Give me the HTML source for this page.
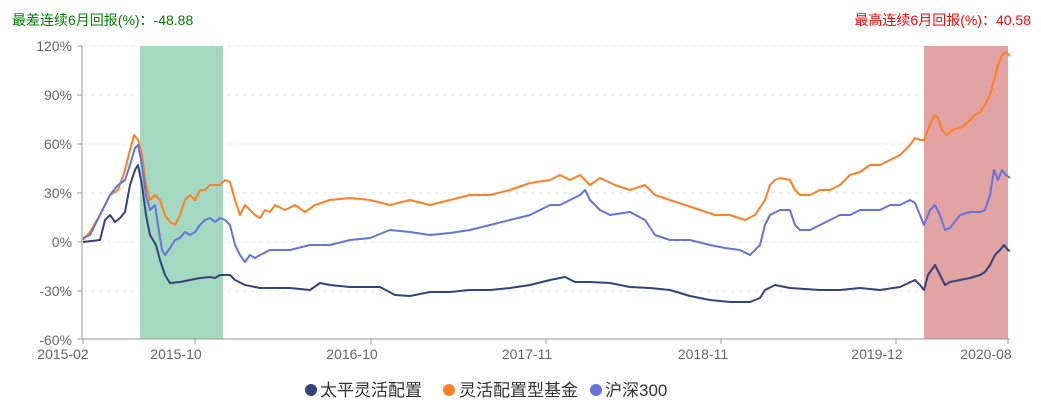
<!DOCTYPE html>
<html><head><meta charset="utf-8"><style>
body{margin:0;background:#fff;width:1041px;height:406px;overflow:hidden;font-family:"Liberation Sans","Noto Sans CJK SC",sans-serif}
</style></head><body>
<svg width="1041" height="406" xmlns="http://www.w3.org/2000/svg" font-family="Liberation Sans, Noto Sans CJK SC, sans-serif">
<text x="12" y="25" font-size="14" fill="#008000">最差连续6月回报(%)：-48.88</text>
<text x="1031" y="25" font-size="14" fill="#ff0000" text-anchor="end">最高连续6月回报(%)：40.58</text>
<g stroke="#e6e6e6" stroke-dasharray="4,4">
<line x1="83" x2="1010" y1="46" y2="46"/><line x1="83" x2="1010" y1="95" y2="95"/><line x1="83" x2="1010" y1="144" y2="144"/><line x1="83" x2="1010" y1="193" y2="193"/><line x1="83" x2="1010" y1="242" y2="242"/><line x1="83" x2="1010" y1="291" y2="291"/>
</g>
<rect x="140" y="46" width="83" height="293" fill="#a5d8c1"/>
<rect x="924" y="46" width="84" height="293" fill="#e2a3a3"/>
<g font-size="14" fill="#666" text-anchor="end">
<text x="72" y="51">120%</text><text x="72" y="100">90%</text><text x="72" y="149">60%</text><text x="72" y="198">30%</text><text x="72" y="247">0%</text><text x="72" y="296">-30%</text><text x="72" y="345">-60%</text>
</g>
<g stroke="#999"><line x1="82" y1="46" x2="82" y2="339"/><line x1="82" y1="339" x2="1010" y2="339"/>
<line x1="77" x2="82" y1="46" y2="46"/><line x1="77" x2="82" y1="95" y2="95"/><line x1="77" x2="82" y1="144" y2="144"/><line x1="77" x2="82" y1="193" y2="193"/><line x1="77" x2="82" y1="242" y2="242"/><line x1="77" x2="82" y1="291" y2="291"/><line x1="77" x2="82" y1="339" y2="339"/>
<line x1="83" x2="83" y1="339" y2="344"/><line x1="195" x2="195" y1="339" y2="344"/><line x1="371" x2="371" y1="339" y2="344"/><line x1="546" x2="546" y1="339" y2="344"/><line x1="721" x2="721" y1="339" y2="344"/><line x1="896" x2="896" y1="339" y2="344"/><line x1="1008" x2="1008" y1="339" y2="344"/>
</g>
<g font-size="14" fill="#666" text-anchor="middle">
<text x="63" y="359">2015-02</text><text x="176" y="359">2015-10</text><text x="352" y="359">2016-10</text><text x="527" y="359">2017-11</text><text x="703" y="359">2018-11</text><text x="877" y="359">2019-12</text><text x="986" y="359">2020-08</text>
</g>
<g fill="none" stroke-width="2" stroke-linejoin="round">
<polyline stroke="#ff7f24" points="83,240 90,232 100,215 110,195 118,190 125,170 130,150 134,135 138,140 142,155 146,185 150,200 155,195 160,200 165,215 170,222 175,225 180,215 185,200 190,195 195,200 200,190 205,190 210,185 215,185 220,185 225,180 230,182 235,200 240,215 245,205 250,210 255,215 260,218 265,210 270,212 275,205 285,210 295,205 305,212 315,205 330,200 350,198 370,200 390,205 410,200 430,205 450,200 470,195 490,195 510,190 530,183 550,180 560,175 570,180 580,175 590,185 600,178 615,185 630,190 645,185 655,195 670,200 685,205 700,210 715,215 730,215 745,220 755,215 765,200 770,185 775,180 780,178 790,180 795,190 800,195 810,195 820,190 830,190 840,185 850,175 860,172 870,165 880,165 890,160 900,155 905,150 910,145 915,138 920,140 924,140 928,130 932,120 935,115 938,118 942,130 947,135 952,130 960,128 965,125 970,120 975,115 980,112 985,105 990,95 994,80 998,65 1002,55 1006,52 1010,56"/>
<polyline stroke="#6673d9" points="83,238 90,235 100,215 110,195 118,185 125,180 130,165 135,148 138,145 142,165 146,195 150,210 155,205 158,225 162,250 165,255 170,248 175,240 180,238 185,232 190,235 195,232 200,225 205,220 210,218 215,222 220,218 225,220 230,225 235,245 240,255 245,262 250,255 255,258 260,255 270,250 290,250 310,245 330,245 350,240 370,238 390,230 410,232 430,235 450,233 470,230 490,225 510,220 530,215 540,210 550,205 560,205 570,200 580,195 585,190 590,200 600,210 610,215 630,212 645,220 655,235 670,240 690,240 710,245 725,248 740,250 750,255 760,245 765,225 770,215 780,210 790,210 795,225 800,230 810,230 820,225 830,220 840,215 850,215 860,210 870,210 880,210 890,205 900,205 910,200 915,203 920,215 924,225 930,210 935,205 940,215 945,230 950,228 960,215 970,212 980,212 985,210 990,195 994,170 998,180 1002,170 1006,175 1010,178"/>
<polyline stroke="#36427a" points="83,242 100,240 105,220 110,215 115,222 120,218 125,212 130,185 135,170 138,165 142,185 146,215 150,235 153,240 156,245 160,260 165,275 170,283 180,282 190,280 200,278 210,277 215,278 220,275 230,275 235,280 245,285 260,288 290,288 310,290 320,283 330,285 350,287 380,287 395,295 410,296 430,292 450,292 470,290 490,290 510,288 530,285 550,280 565,277 575,282 590,282 610,283 630,287 650,288 670,290 690,296 710,300 730,302 750,302 760,298 765,290 775,285 790,288 820,290 840,290 860,288 880,290 900,287 915,280 920,285 924,290 928,275 935,265 940,275 945,285 950,282 960,280 970,278 980,275 985,272 990,265 995,255 1000,250 1004,245 1008,250 1010,251"/>
</g>
<g font-size="17" fill="#333">
<circle cx="311" cy="390" r="6" fill="#36427a"/><text x="320" y="396">太平灵活配置</text>
<circle cx="449" cy="390" r="6" fill="#ff7f24"/><text x="459" y="396">灵活配置型基金</text>
<circle cx="596" cy="390" r="6" fill="#6673d9"/><text x="605" y="396">沪深300</text>
</g>
</svg>
</body></html>
